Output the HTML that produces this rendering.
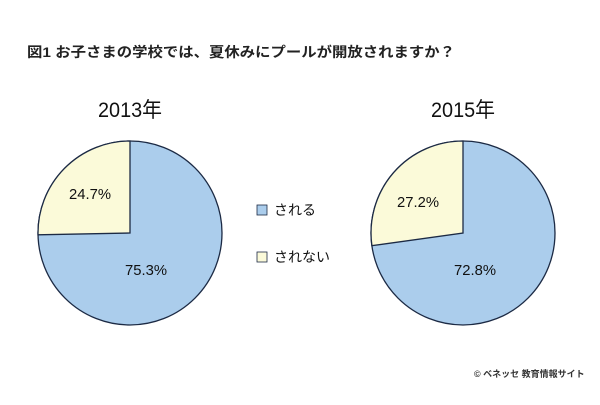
<!DOCTYPE html>
<html><head><meta charset="utf-8"><style>
body{margin:0;background:#fff;}
svg text{font-family:"Liberation Sans","Noto Sans CJK JP",sans-serif;}
</style></head><body>
<svg width="600" height="400" xmlns="http://www.w3.org/2000/svg">
<rect width="600" height="400" fill="#fff"/>
<text x="27" y="57" font-size="14" font-weight="bold" fill="#222" textLength="428" lengthAdjust="spacingAndGlyphs">図1  お子さまの学校では、夏休みにプールが開放されますか？</text>
<text x="130" y="117" font-size="21" text-anchor="middle" fill="#111" textLength="64" lengthAdjust="spacingAndGlyphs">2013年</text>
<text x="463" y="117" font-size="21" text-anchor="middle" fill="#111" textLength="64" lengthAdjust="spacingAndGlyphs">2015年</text>
<circle cx="130" cy="233" r="92" fill="#abcdec" stroke="#1c2a44" stroke-width="1.3"/>
<path d="M130,233 L130,141 A92,92 0 0 0 38.01,234.8 Z" fill="#fbfad9" stroke="#1c2a44" stroke-width="1.3"/>
<text x="90" y="199" font-size="15" text-anchor="middle" fill="#111" textLength="42" lengthAdjust="spacingAndGlyphs">24.7%</text>
<text x="146" y="275" font-size="15" text-anchor="middle" fill="#111" textLength="42" lengthAdjust="spacingAndGlyphs">75.3%</text>
<circle cx="463" cy="233" r="92" fill="#abcdec" stroke="#1c2a44" stroke-width="1.3"/>
<path d="M463,233 L463,141 A92,92 0 0 0 371.9,245.7 Z" fill="#fbfad9" stroke="#1c2a44" stroke-width="1.3"/>
<text x="418" y="207" font-size="15" text-anchor="middle" fill="#111" textLength="42" lengthAdjust="spacingAndGlyphs">27.2%</text>
<text x="475" y="275" font-size="15" text-anchor="middle" fill="#111" textLength="42" lengthAdjust="spacingAndGlyphs">72.8%</text>
<rect x="257" y="205" width="10" height="10" fill="#abcdec" stroke="#1c2a44" stroke-width="0.8"/>
<text x="274" y="215" font-size="14" fill="#111">される</text>
<rect x="257" y="252" width="10" height="10" fill="#fbfad9" stroke="#1c2a44" stroke-width="0.8"/>
<text x="274" y="262" font-size="14" fill="#111">されない</text>
<text x="474" y="377" font-size="9" font-weight="bold" fill="#333">© ベネッセ 教育情報サイト</text>
</svg>
</body></html>
